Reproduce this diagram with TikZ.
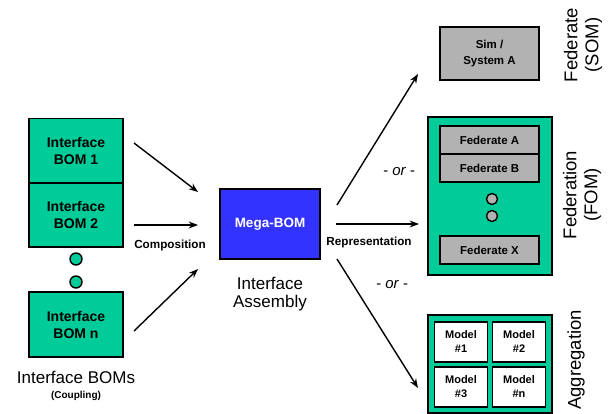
\documentclass[tikz,border=0pt]{standalone}
\usepackage{fontspec}
\setmainfont{Liberation Sans}
\usepackage{xcolor}
\usetikzlibrary{positioning, arrows.meta}

\definecolor{bomgreen}{RGB}{0,204,153}
\definecolor{megablue}{RGB}{51,51,255}
\definecolor{simgray}{RGB}{178,178,178}

\begin{document}
\begin{tikzpicture}[x=1pt, y=-1pt, >=Stealth, auto]
  \useasboundingbox (0,0) rectangle (613,414);

  % Set the node styles
  \tikzset{bombox/.style={rectangle, draw, line width=1.6pt, fill=bomgreen, minimum width=94pt, minimum height=65pt, align=center, font=\fontsize{14}{17}\selectfont\bfseries}}
  \tikzset{fedbox/.style={rectangle, draw, line width=1.6pt, fill=simgray, minimum width=99pt, minimum height=28pt, align=center, font=\fontsize{11.5}{16}\selectfont\bfseries}}
  \tikzset{modelbox/.style={rectangle, draw, line width=1.6pt, fill=white, minimum width=53pt, minimum height=40pt, align=center, font=\fontsize{11}{14}\selectfont\bfseries}}
  \tikzset{frame/.style={rectangle, draw, line width=1.6pt, fill=bomgreen, minimum width=124pt}}
  \tikzset{dot/.style={circle, draw, line width=1.4pt, minimum size=11pt, inner sep=0pt}}
  \tikzset{arr/.style={->, line width=1.4pt}}
  \tikzset{tag/.style={font=\fontsize{11.7}{13}\selectfont\bfseries}}
  \tikzset{orlbl/.style={font=\fontsize{15}{17}\selectfont\itshape}}
  \tikzset{side/.style={rotate=90, align=center, font=\fontsize{18.5}{21}\selectfont}}

  % Draw the interface BOMs
  \node[bombox] (bom1) at (76,151) {Interface\\BOM 1};
  \node[bombox, minimum height=64pt] (bom2) at (76,215) {Interface\\BOM 2};
  \node[bombox] (bomn) at (76,324.5) {Interface\\BOM n};
  \foreach \i/\y in {1/259,2/282}{
    \node[dot, minimum size=12pt, fill=bomgreen] (bdot\i) at (76,\y) {};
  }
  \node[font=\fontsize{17}{19}\selectfont] (bomlbl) at (76,377) {Interface BOMs};
  \node[font=\fontsize{10}{12}\selectfont\bfseries] (coupling) at (76,396) {(Coupling)};

  % Draw the mega-BOM
  \node[rectangle, draw, line width=1.6pt, fill=megablue, text=white, minimum width=100pt, minimum height=70pt, font=\fontsize{13.5}{16}\selectfont\bfseries] (mega) at (270,224) {Mega-BOM};
  \node[align=center, font=\fontsize{17}{18}\selectfont] (assembly) at (270,294) {Interface\\Assembly};

  % Draw the federate
  \node[fedbox, minimum height=53pt] (sim) at (489.5,53.5) {Sim /\\System A};
  \node[side] (somlbl) at (583,45) {Federate\\(SOM)};

  % Draw the federation
  \node[frame, minimum height=158pt] (fom) at (490,196) {};
  \node[fedbox] (feda) at (489.5,140) {Federate A};
  \node[fedbox] (fedb) at (489.5,168) {Federate B};
  \foreach \i/\y in {1/199,2/216}{
    \node[dot, fill=simgray] (fdot\i) at (492,\y) {};
  }
  \node[fedbox] (fedx) at (489.5,250) {Federate X};
  \node[side] (fomlbl) at (582,195) {Federation\\(FOM)};

  % Draw the aggregation
  \node[frame, minimum height=98pt] (agg) at (490,364) {};
  \foreach \i/\x/\y/\n in {1/461/342/1, 2/519/342/2, 3/461/387/3, 4/519/387/n}{
    \node[modelbox] (model\i) at (\x,\y) {Model\\\#\n};
  }
  \node[side] (agglbl) at (576,360) {Aggregation};

  % Arrow end points
  \coordinate (c1s) at (134,143);  \coordinate (c1e) at (198,192);
  \coordinate (c2s) at (134,225);  \coordinate (c2e) at (198,225);
  \coordinate (c3s) at (134,331);  \coordinate (c3e) at (198,269);
  \coordinate (r1s) at (337,205);  \coordinate (r1e) at (418,74);
  \coordinate (r2s) at (336,224);  \coordinate (r2e) at (419,224);
  \coordinate (r3s) at (337,259);  \coordinate (r3e) at (418,388);

  % Connect composition arrows
  \foreach \k in {1,2,3}{
    \draw[arr] (c\k s) -- (c\k e);
  }
  \node[tag] (comp) at (170,245) {Composition};

  % Connect representation arrows
  \foreach \k in {1,2,3}{
    \draw[arr] (r\k s) -- (r\k e);
  }
  \node[tag] (repr) at (369,242) {Representation};
  \node[orlbl] (or1) at (399,172) {- or -};
  \node[orlbl] (or2) at (392,285) {- or -};
\end{tikzpicture}
\end{document}
